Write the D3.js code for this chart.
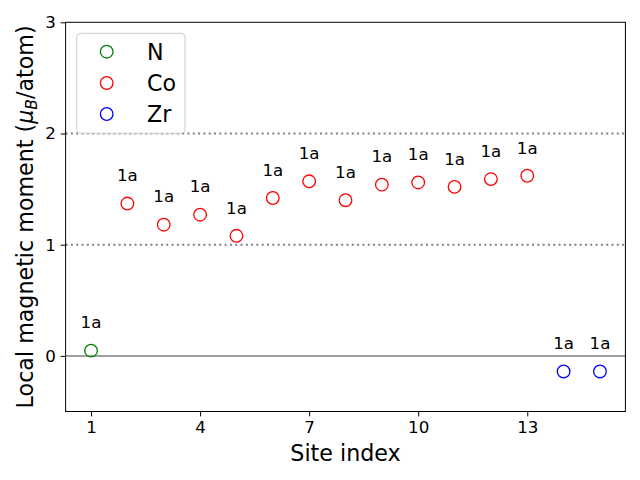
<!DOCTYPE html>
<html><head><meta charset="utf-8">
<script src="https://cdn.jsdelivr.net/npm/d3@7"></script>
<style>body{margin:0;background:#fff;} text{font-family:"DejaVu Sans",sans-serif;}</style>
</head><body>
<svg id="c" width="640" height="480"></svg>
<script>
const siteIndex = [1,2,3,4,5,6,7,8,9,10,11,12,13,14,15];
const moments = [0.047,1.37,1.18,1.27,1.08,1.42,1.57,1.40,1.54,1.56,1.52,1.59,1.62,-0.14,-0.14];
const elements = ["N","Co","Co","Co","Co","Co","Co","Co","Co","Co","Co","Co","Co","Zr","Zr"];
const wyckoff = ["1a","1a","1a","1a","1a","1a","1a","1a","1a","1a","1a","1a","1a","1a","1a"];
const legendNames = ["N","Co","Zr"];
const legendColors = ["green","red","blue"];
const xTicks = [1,4,7,10,13];
const yTicks = [0,1,2,3];
const gridLevels = [1,2];

const svg = d3.select("#c");
const L=65.6, R=625.4, T=22.3, B=411.5;
const x = d3.scaleLinear().domain([0.3,15.7]).range([L,R]);
const y = d3.scaleLinear().domain([-0.5,3]).range([B,T]);
const color = d3.scaleOrdinal().domain(legendNames).range(legendColors);

// grid dotted
svg.selectAll(".grid").data(gridLevels).enter().append("line")
  .attr("x1",L).attr("x2",R).attr("y1",d=>y(d)).attr("y2",d=>y(d))
  .attr("stroke","#808080").attr("stroke-width",2).attr("stroke-dasharray","2,3.3");
// zero line
svg.append("line").attr("x1",L).attr("x2",R).attr("y1",y(0)).attr("y2",y(0))
  .attr("stroke","#808080").attr("stroke-width",1.5);

// points
svg.selectAll(".pt").data(siteIndex).enter().append("circle")
  .attr("cx",(d)=>x(d)).attr("cy",(d,i)=>y(moments[i])).attr("r",6.3)
  .attr("fill","none").attr("stroke",(d,i)=>color(elements[i])).attr("stroke-width",1.3);
// labels
svg.selectAll(".lb").data(siteIndex).enter().append("text")
  .attr("x",d=>x(d)).attr("y",(d,i)=>y(moments[i]+0.2))
  .attr("text-anchor","middle").attr("fill","#000")
  .style("font-size","16.7px").text((d,i)=>wyckoff[i]);

// axes
const xa = svg.append("g").attr("transform",`translate(0,${B})`)
  .call(d3.axisBottom(x).tickValues(xTicks).tickSize(4.9).tickPadding(4.9).tickFormat(d3.format("d")));
const ya = svg.append("g").attr("transform",`translate(${L},0)`)
  .call(d3.axisLeft(y).tickValues(yTicks).tickSize(4.9).tickPadding(4.9).tickFormat(d3.format("d")));
[xa,ya].forEach(a=>{a.select(".domain").remove();
  a.selectAll("text").attr("font-size",null).style("font-size","16.7px").style("font-family","DejaVu Sans").attr("fill","#000");
  a.selectAll("line").attr("stroke","#000").attr("stroke-width",1);});
svg.append("rect").attr("x",L).attr("y",T).attr("width",R-L).attr("height",B-T)
  .attr("fill","none").attr("stroke","#000").attr("stroke-width",1);

// axis titles
svg.append("text").attr("x",(L+R)/2).attr("y",461).attr("text-anchor","middle")
  .style("font-size","22.2px").text("Site index");
const yt = svg.append("text").attr("transform",`translate(33,${(T+B)/2}) rotate(-90)`)
  .attr("text-anchor","middle").style("font-size","22.2px");
yt.append("tspan").text("Local magnetic moment (");
yt.append("tspan").attr("font-style","italic").text("μ");
yt.append("tspan").attr("font-style","italic").attr("dy",4).style("font-size","15.5px").text("B");
yt.append("tspan").attr("dy",-4).text("/atom)");

// legend
const lg = svg.append("g");
lg.append("rect").attr("x",76.7).attr("y",33.3).attr("width",108.3).attr("height",100)
  .attr("rx",4).attr("fill","#fff").attr("fill-opacity",0.8).attr("stroke","#cccccc").attr("stroke-width",1);
const lgY = [51.7,83,114];
legendNames.forEach((n,i)=>{
  lg.append("circle").attr("cx",106.7).attr("cy",lgY[i]).attr("r",6.3)
    .attr("fill","none").attr("stroke",color(n)).attr("stroke-width",1.3);
  lg.append("text").attr("x",147).attr("y",lgY[i]+8).style("font-size","22.2px").text(n);
});
</script>
</body></html>
